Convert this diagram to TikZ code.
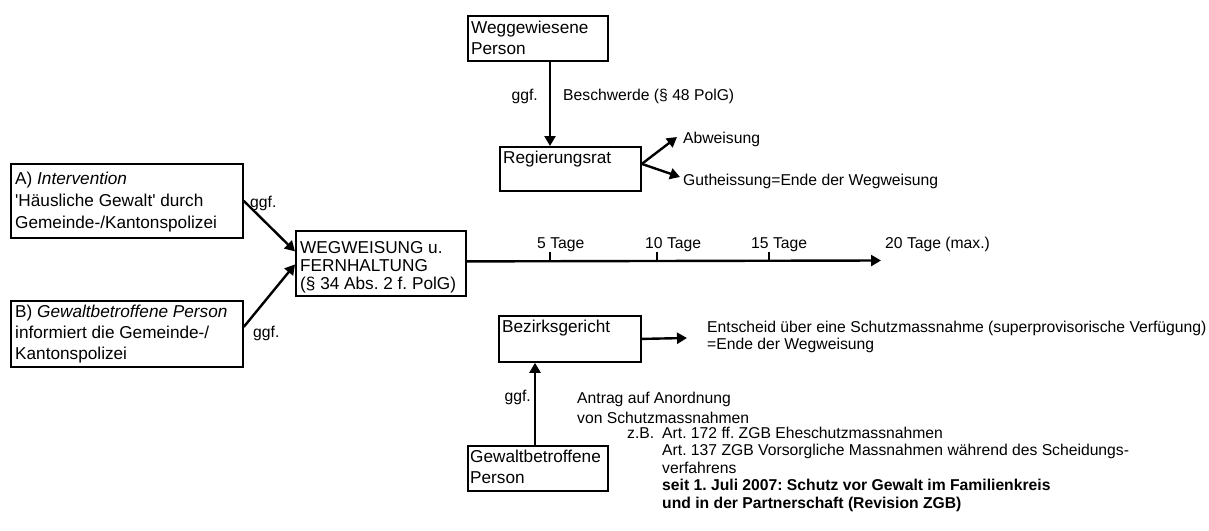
\documentclass[tikz,border=0pt]{standalone}
\usepackage{fontspec}
\newfontfamily\arialf{Liberation Sans}
\usetikzlibrary{arrows.meta,calc}
\tikzset{
  every node/.style={font=\arialf\fontsize{15.7}{17.5}\selectfont\frenchspacing},
  box/.style={draw, line width=1.8pt, inner sep=0pt, anchor=north west},
  boxtext/.style={anchor=base west, inner sep=0pt, align=left},
  lbl/.style={anchor=base west, inner sep=0pt, align=left},
  lble/.style={anchor=base east, inner sep=0pt, align=right},
  arr/.style={line width=2.4pt, -{Triangle[length=10pt,width=11pt]}},
  tick/.style={line width=1.5pt},
}
\newcommand\bigtxt[1]{\arialf\fontsize{17.2}{#1}\selectfont\frenchspacing}
\begin{document}
\begin{tikzpicture}[x=1pt,y=-1pt]
\fill[white] (0,0) rectangle (1209,530);
\useasboundingbox (0,0) rectangle (1209,530);

% boxes
\node[box, minimum width=140pt, minimum height=45pt] (weg) at (467,15) {};
\node[box, minimum width=141pt, minimum height=44pt] (reg) at (499,146) {};
\node[box, minimum width=232pt, minimum height=74pt] (boxA) at (10,163) {};
\node[box, minimum width=232pt, minimum height=66pt] (boxB) at (10,300) {};
\node[box, minimum width=170pt, minimum height=65pt] (wegw) at (295,230) {};
\node[box, minimum width=142pt, minimum height=46pt] (bez) at (498,315) {};
\node[box, minimum width=140pt, minimum height=45pt] (gew) at (467,445) {};

% box texts (base = baseline of the last line)
\node[boxtext, font=\bigtxt{21}] (wegt) at (471,54) {Weggewiesene\\Person};
\node[boxtext, font=\bigtxt{21}] (regt) at (503,163) {Regierungsrat};
\node[boxtext, font=\bigtxt{22}] (boxAt) at (15,228) {A) \textit{Intervention}\\'Häusliche Gewalt' durch\\Gemeinde-/Kantonspolizei};
\node[boxtext, font=\bigtxt{21}] (boxBt) at (15,359) {B) \textit{Gewaltbetroffene Person}\\informiert die Gemeinde-/\\Kantonspolizei};
\node[boxtext, font=\bigtxt{18}] (wegwt) at (300,289) {WEGWEISUNG u.\\FERNHALTUNG\\(§ 34 Abs. 2 f. PolG)};
\node[boxtext, font=\bigtxt{21}] (bezt) at (502,332) {Bezirksgericht};
\node[boxtext, font=\bigtxt{21}] (gewt) at (470,483) {Gewaltbetroffene\\Person};

% free labels
\node[lble] (ggf1) at (538,100) {ggf.};
\node[lbl] (besch) at (563,100) {Beschwerde (§ 48 PolG)};
\node[lbl] (abw) at (683,143) {Abweisung};
\node[lbl] (guth) at (683,185) {Gutheissung=Ende der Wegweisung};
\node[lbl] (ggfA) at (250,207) {ggf.};
\node[lbl] (ggfB) at (253,337) {ggf.};
\node[lbl] (d5) at (537,248) {5 Tage};
\node[lbl] (d10) at (645,248) {10 Tage};
\node[lbl] (d15) at (751,248) {15 Tage};
\node[lbl] (d20) at (885,248) {20 Tage (max.)};
\node[lbl, font=\arialf\fontsize{15.7}{17}\selectfont\frenchspacing] (ents) at (707,349) {Entscheid über eine Schutzmassnahme (superprovisorische Verfügung)\\=Ende der Wegweisung};
\node[lble] (ggf2) at (531,401) {ggf.};
\node[lbl, font=\arialf\fontsize{15.7}{20}\selectfont\frenchspacing] (antrag) at (577,423) {Antrag auf Anordnung\\von Schutzmassnahmen};
\node[lbl] (zb) at (627,438) {z.B.};
\node[lbl] (arts) at (662,508) {Art. 172 ff. ZGB Eheschutzmassnahmen\\Art. 137 ZGB Vorsorgliche Massnahmen während des Scheidungs-\\verfahrens\\\textbf{seit 1. Juli 2007: Schutz vor Gewalt im Familienkreis}\\\textbf{und in der Partnerschaft (Revision ZGB)}};

% free ends and ticks
\coordinate (tend) at (881,260.5);
\coordinate (bezend) at (687,338);
\coordinate (abwend) at (677,137);
\coordinate (guthend) at (680,177);
\coordinate (t5) at (550,260.5);
\coordinate (t10) at (657,260.5);
\coordinate (t15) at (769,260.5);

% connectors
\draw[arr] (weg.south -| 550,0) -- (reg.north -| 550,0);
\draw[arr] ([yshift=5pt]reg.east) -- (abwend);
\draw[arr] ([yshift=5pt]reg.east) -- (guthend);
\draw[arr] (boxA.east) -- ([yshift=12pt]wegw.west);
\draw[arr] ([yshift=7pt]boxB.east) -- ([yshift=-1pt]wegw.west);
\draw[arr] ([yshift=2pt]wegw.east) -- (tend);
\draw[tick] (t5) -- ++(0,-9);
\draw[tick] (t10) -- ++(0,-9);
\draw[tick] (t15) -- ++(0,-9);
\draw[arr] (bez.east) -- (bezend);
\draw[arr] (gew.north -| 535,0) -- (bez.south -| 535,0);
\end{tikzpicture}
\end{document}
